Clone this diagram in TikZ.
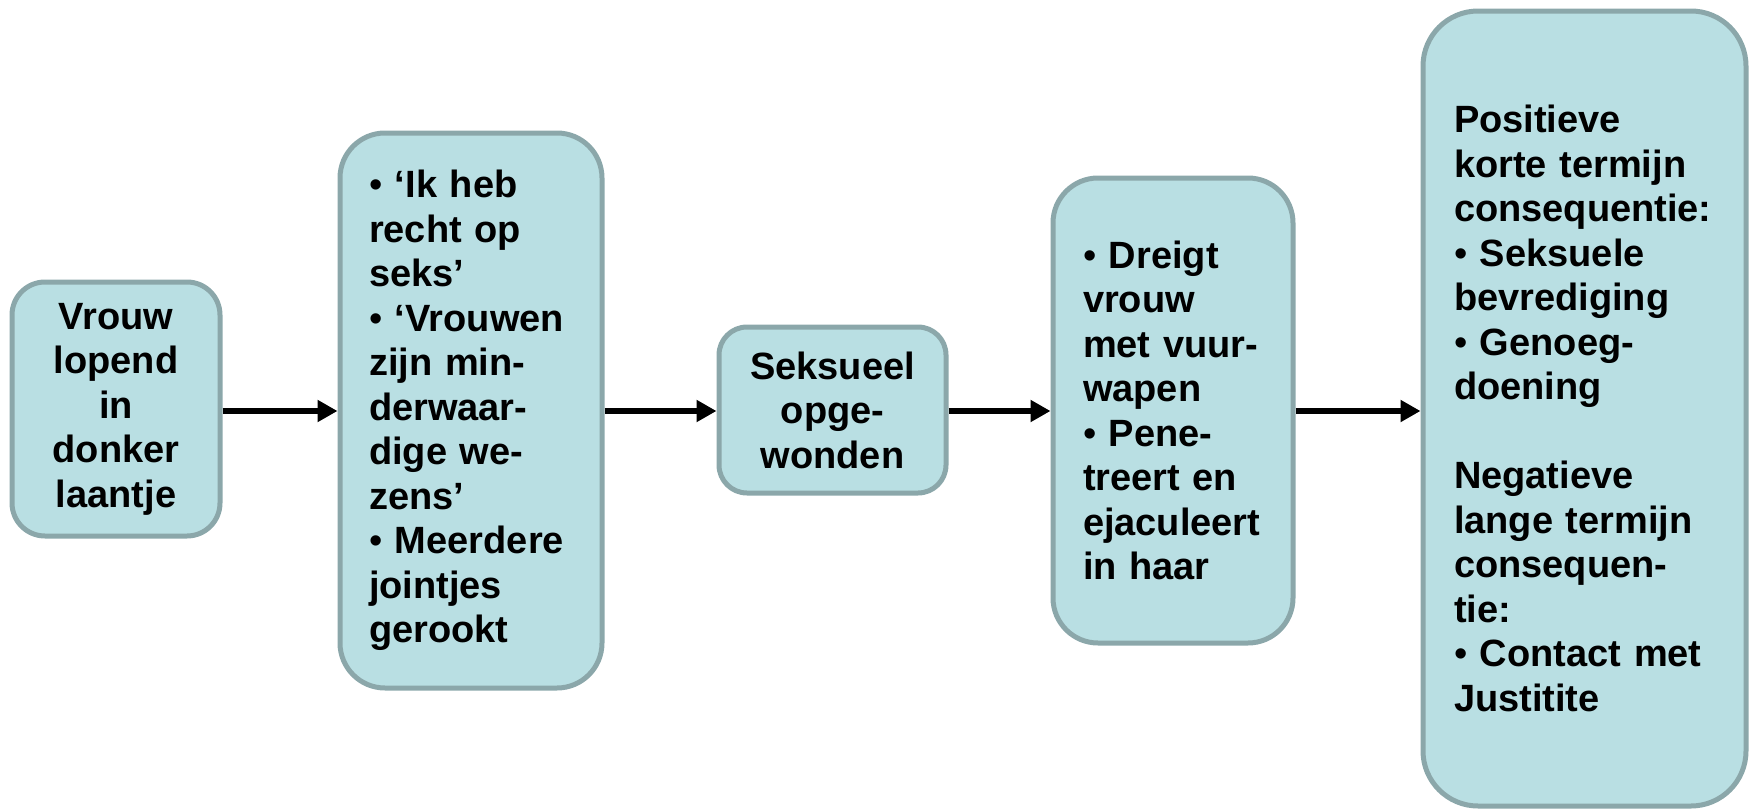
\documentclass[tikz,border=0pt]{standalone}
\usepackage{fontspec}
\setmainfont{Liberation Sans}
\usepackage{xcolor}
\usetikzlibrary{arrows.meta}
\definecolor{vakblauw}{HTML}{B9DFE3}
\definecolor{vakrand}{HTML}{8BA7AA}
\hyphenpenalty=10000
\newcommand{\bol}{{\mdseries •}}

\begin{document}
\begin{tikzpicture}[x=1pt,y=-1pt,
    every node/.style={draw=vakrand,fill=vakblauw,line width=5pt,inner ysep=0pt,
        font=\bfseries\fontsize{38}{44.5}\selectfont},
    pijl/.style={-{Triangle[length=20pt,width=21pt]},line width=6pt}]
    \useasboundingbox (0,0) rectangle (1754,811);

    \node[align=center,text width=188pt,inner xsep=10pt,minimum height=254pt,rounded corners=33pt] (A) at (116,409)
        {Vrouw\\lopend\\in\\donker\\laantje};
    \node[align=left,text width=204pt,inner xsep=29pt,minimum height=555pt,rounded corners=45pt] (B) at (471,410.5)
        {\bol{} ‘Ik heb\\recht op\\seks’\\\bol{} ‘Vrouwen\\zijn min-\\derwaar-\\dige we-\\zens’\\\bol{} Meerdere\\jointjes\\gerookt};
    \node[align=center,text width=207pt,inner xsep=10pt,minimum height=166pt,rounded corners=28pt] (C) at (832.5,410)
        {Seksueel\\opge-\\wonden};
    \node[align=left,text width=180pt,inner xsep=30pt,minimum height=465pt,rounded corners=45pt] (D) at (1173,410.5)
        {\bol{} Dreigt\\vrouw\\met vuur-\\wapen\\\bol{} Pene-\\treert en\\ejaculeert\\in haar};
    \node[align=left,text width=261pt,inner xsep=31pt,minimum height=795pt,rounded corners=55pt] (E) at (1584.5,408.5)
        {Positieve\\korte termijn\\consequentie:\\\bol{} Seksuele\\bevrediging\\\bol{} Genoeg-\\doening\\[44.5pt]Negatieve\\lange termijn\\consequen-\\tie:\\\bol{} Contact met\\Justitite};

    \foreach \a/\b in {A/B,B/C,C/D,D/E}
        \draw[pijl] (\a.east |- 0,411) -- (\b.west |- 0,411);
\end{tikzpicture}
\end{document}
